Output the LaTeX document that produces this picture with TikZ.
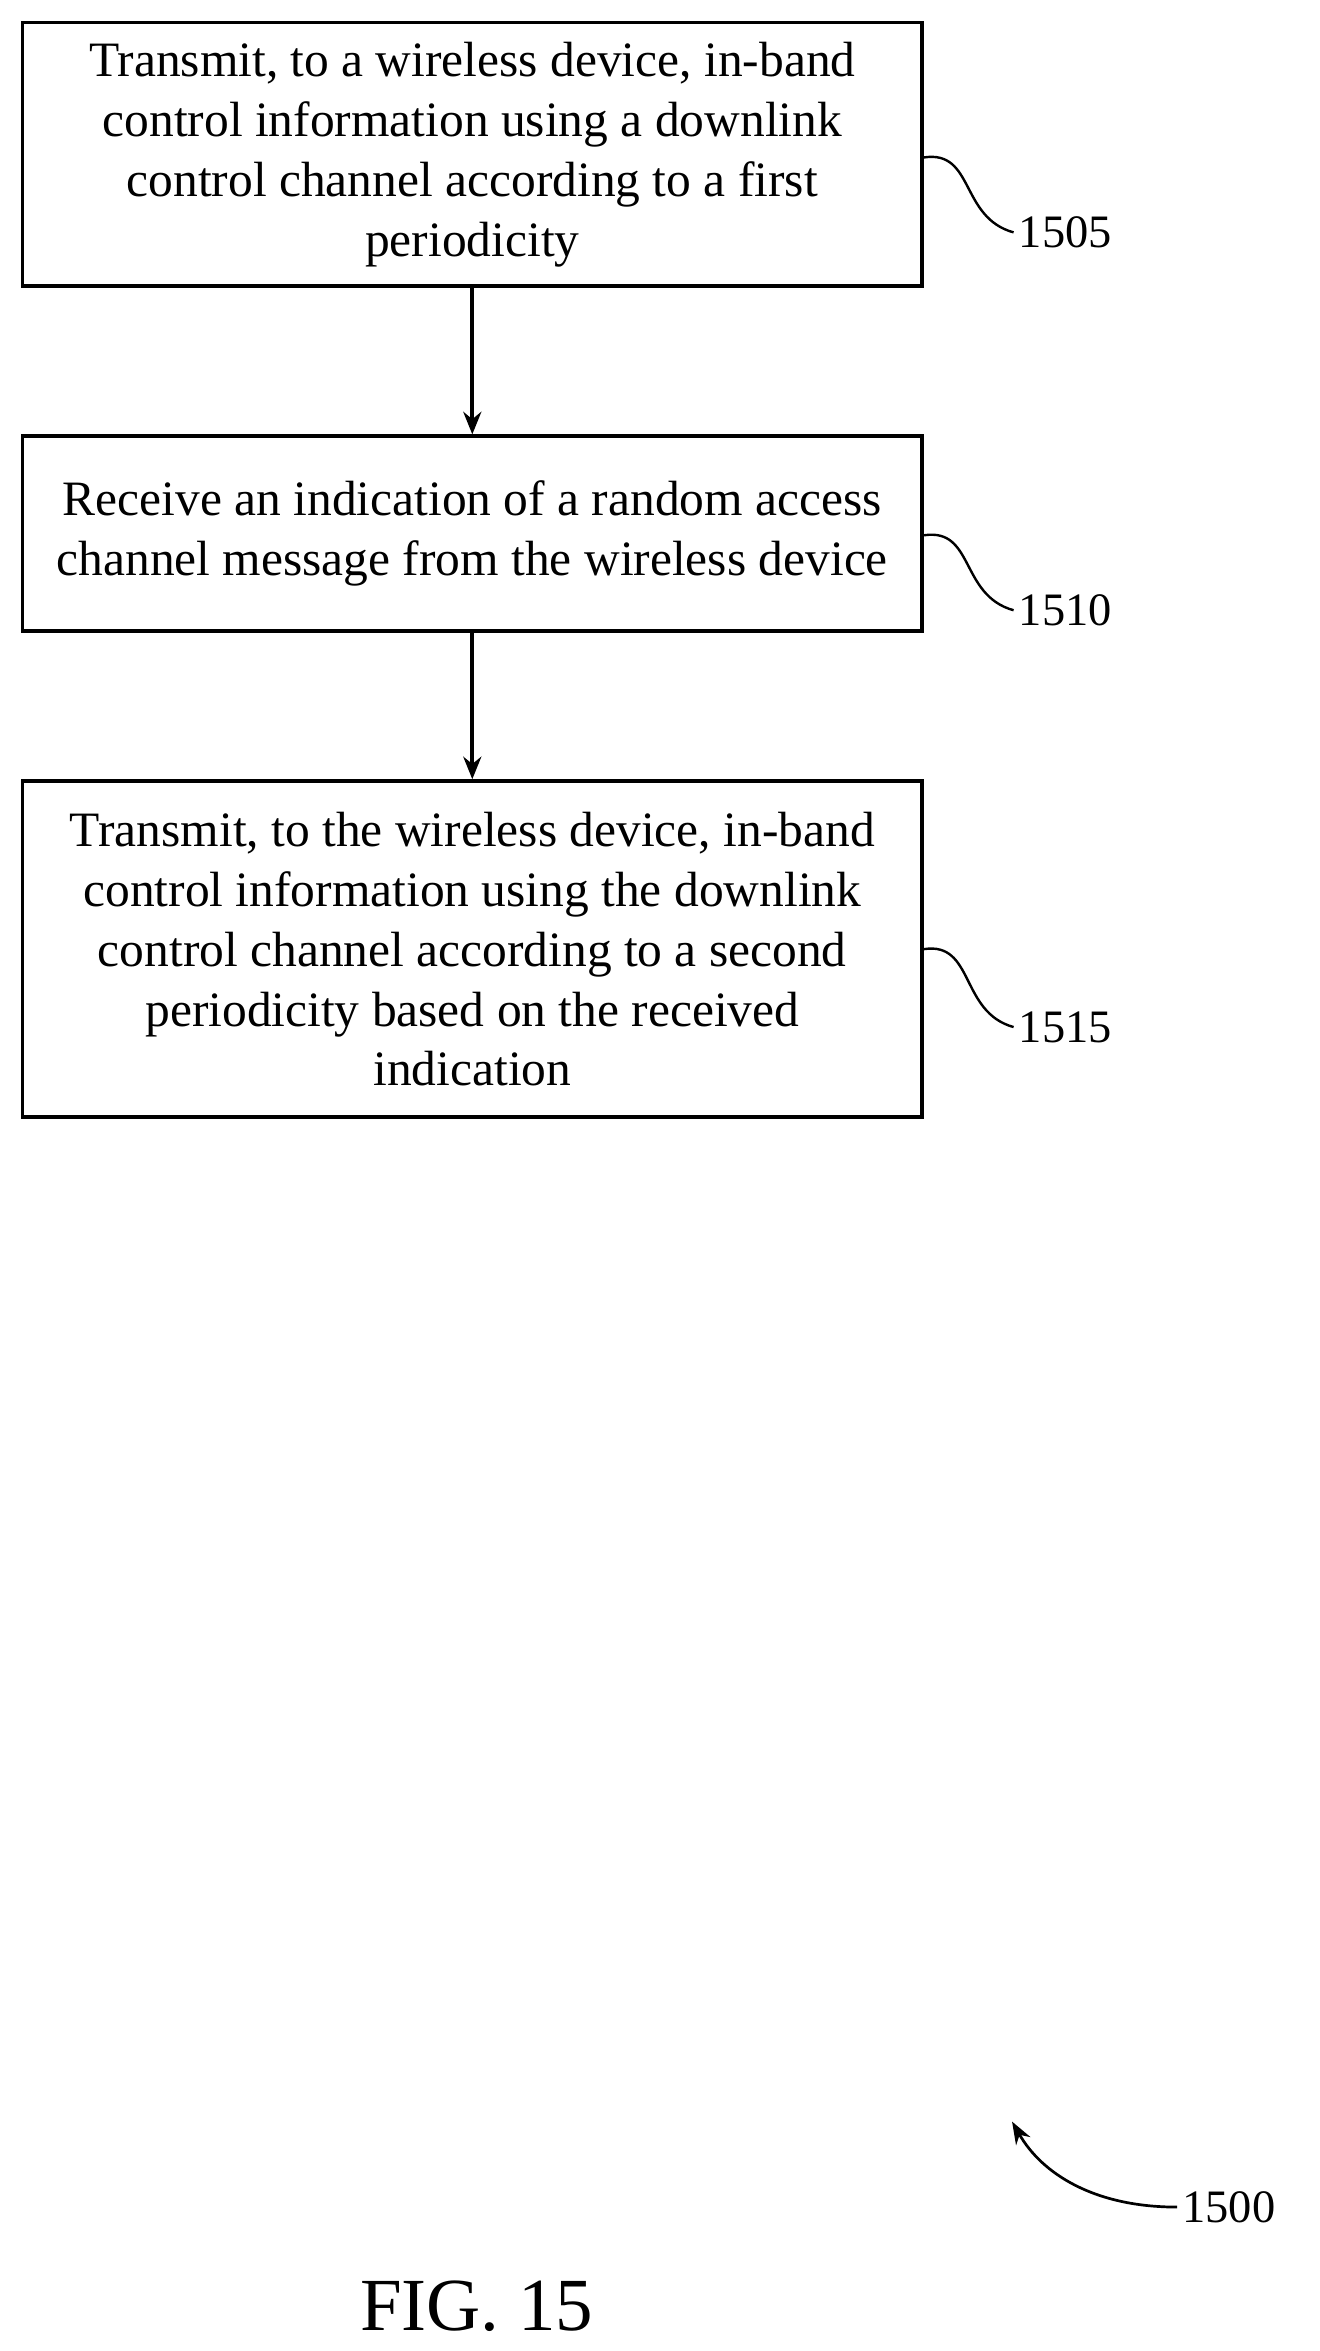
\documentclass[tikz,border=0pt]{standalone}
\usepackage{fontspec}
\setmainfont{Liberation Serif}
\usetikzlibrary{arrows.meta}
\begin{document}
\begin{tikzpicture}[x=1pt,y=-1pt,
  stepbox/.style={draw,line width=2.6pt,minimum width=600pt,align=center,font=\fontsize{33}{40}\selectfont,inner sep=0pt},
  arr/.style={line width=2.8pt,-{Stealth[length=15pt,width=12pt]}},
  lbl/.style={font=\fontsize{31}{34}\selectfont},
  sq/.style={line width=1.6pt}]
\useasboundingbox (0,0) rectangle (880,1568);
\node[stepbox,minimum height=176pt] (b1) at (315,103) {Transmit, to a wireless device, in-band\\control information using a downlink\\control channel according to a first\\periodicity};
\node[stepbox,minimum height=130pt] (b2) at (315,356) {Receive an indication of a random access\\channel message from the wireless device};
\node[stepbox,minimum height=224pt] (b3) at (315,633) {Transmit, to the wireless device, in-band\\control information using the downlink\\control channel according to a second\\periodicity based on the received\\indication};
\draw[arr] (b1) -- (b2);
\draw[arr] (b2) -- (b3);
\node[lbl,anchor=west] (l1) at (676,155) {1505};
\node[lbl,anchor=west] (l2) at (676,407) {1510};
\node[lbl,anchor=west] (l3) at (676,685) {1515};
\draw[sq] (b1.east|-0,105) .. controls (650,100) and (640,145) .. (l1.west);
\draw[sq] (b2.east|-0,357) .. controls (650,352) and (640,397) .. (l2.west);
\draw[sq] (b3.east|-0,633) .. controls (650,628) and (640,675) .. (l3.west);
\node[lbl,anchor=west] (l4) at (785,1472) {1500};
\coordinate (t4) at (675,1415);
\draw[line width=1.8pt,-{Stealth[length=15pt,width=11pt]}] (l4.west) .. controls (730,1472) and (695,1450) .. (t4);
\node[font=\fontsize{50}{56}\selectfont] (fig) at (318,1538) {FIG. 15};
\end{tikzpicture}
\end{document}
